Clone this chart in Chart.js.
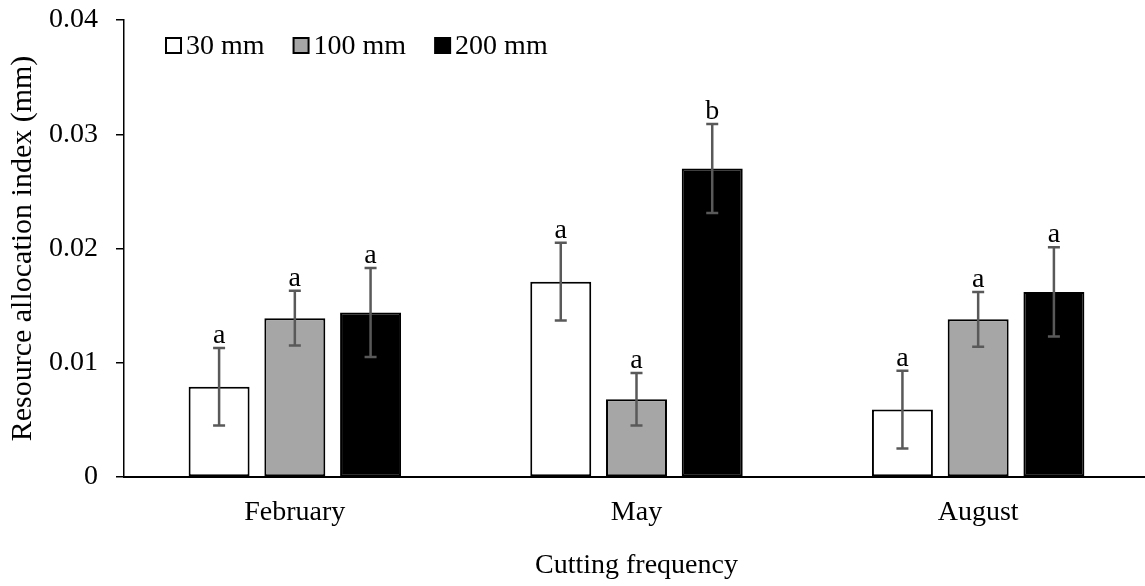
<!DOCTYPE html>
<html>
<head>
<meta charset="utf-8">
<script src="https://cdn.jsdelivr.net/npm/chart.js@4.4.1/dist/chart.umd.min.js"></script>
<style>
  html, body { margin: 0; padding: 0; background: #fff; overflow: hidden; }
  #wrap { width: 1150px; height: 586px; }
</style>
</head>
<body>
<div id="wrap"><canvas id="c" width="1150" height="586"></canvas></div>
<script>
const categories = ['February', 'May', 'August'];
const seriesLabels = ['30 mm', '100 mm', '200 mm'];
const values30 = [0.0079, 0.0171, 0.0059];
const values100 = [0.0139, 0.0068, 0.0138];
const values200 = [0.0144, 0.0270, 0.0162];
const err30 = [0.0034, 0.0034, 0.0034];
const err100 = [0.0024, 0.0023, 0.0024];
const err200 = [0.0039, 0.0039, 0.0039];
const letters30 = ['a', 'a', 'a'];
const letters100 = ['a', 'a', 'a'];
const letters200 = ['a', 'b', 'a'];
const yTicks = [0, 0.01, 0.02, 0.03, 0.04];

const FONT = "'Liberation Serif', 'Times New Roman', serif";
const fills = ['#ffffff', '#a6a6a6', '#000000'];

const datasets = [
  { label: seriesLabels[0], data: values30, errors: err30, letters: letters30 },
  { label: seriesLabels[1], data: values100, errors: err100, letters: letters100 },
  { label: seriesLabels[2], data: values200, errors: err200, letters: letters200 }
].map((d, i) => Object.assign(d, {
  backgroundColor: fills[i],
  borderColor: '#000000',
  borderWidth: 2,
  borderSkipped: false,
  categoryPercentage: 0.665,
  barPercentage: 0.805
}));

const errorBarPlugin = {
  id: 'errorBars',
  afterDatasetsDraw(chart) {
    const ctx = chart.ctx;
    const ys = chart.scales.y;
    ctx.save();
    chart.data.datasets.forEach((ds, i) => {
      const meta = chart.getDatasetMeta(i);
      meta.data.forEach((el, j) => {
        const v = ds.data[j], e = ds.errors[j];
        const x = el.x;
        const yt = ys.getPixelForValue(v + e);
        const yb = ys.getPixelForValue(v - e);
        ctx.strokeStyle = '#595959';
        ctx.lineWidth = 2.5;
        ctx.beginPath();
        ctx.moveTo(x, yt); ctx.lineTo(x, yb);
        ctx.moveTo(x - 6, yt); ctx.lineTo(x + 6, yt);
        ctx.moveTo(x - 6, yb); ctx.lineTo(x + 6, yb);
        ctx.stroke();
        ctx.fillStyle = '#000';
        ctx.font = '28px ' + FONT;
        ctx.textAlign = 'center';
        ctx.textBaseline = 'alphabetic';
        ctx.fillText(ds.letters[j], x, yt - 5);
      });
    });
    ctx.restore();
  }
};

const legendPlugin = {
  id: 'customLegend',
  afterDraw(chart) {
    const ctx = chart.ctx;
    ctx.save();
    ctx.font = '28px ' + FONT;
    ctx.textBaseline = 'alphabetic';
    ctx.textAlign = 'left';
    let x = 166;
    const boxTop = 38, box = 15, baseline = 54;
    chart.data.datasets.forEach((ds) => {
      ctx.fillStyle = ds.backgroundColor;
      ctx.fillRect(x, boxTop, box, box);
      ctx.strokeStyle = '#000';
      ctx.lineWidth = 2;
      ctx.strokeRect(x, boxTop, box, box);
      x += box + 5;
      ctx.fillStyle = '#000';
      ctx.fillText(ds.label, x, baseline);
      x += ctx.measureText(ds.label).width + 29;
    });
    ctx.restore();
  }
};

new Chart(document.getElementById('c'), {
  type: 'bar',
  data: { labels: categories, datasets },
  plugins: [errorBarPlugin, legendPlugin],
  options: {
    responsive: false,
    animation: false,
    layout: { padding: { top: 20, right: 1, bottom: 0, left: 0 } },
    plugins: {
      legend: { display: false },
      tooltip: { enabled: false }
    },
    scales: {
      x: {
        grid: { display: false, drawTicks: false },
        border: { display: true, color: '#000', width: 2 },
        ticks: { color: '#000', font: { family: FONT, size: 28 }, padding: 19 },
        title: { display: true, text: 'Cutting frequency', color: '#000', font: { family: FONT, size: 28 }, padding: { top: 0, bottom: 4 } },
        afterFit(scale) { scale.height = 109; scale.paddingLeft = 0; scale.paddingRight = 0; }
      },
      y: {
        min: 0, max: 0.04,
        afterBuildTicks(scale) { scale.ticks = yTicks.map(v => ({ value: v })); },
        grid: { drawOnChartArea: false, drawTicks: true, tickLength: 8, color: '#000', lineWidth: 1.5 },
        border: { display: true, color: '#000', width: 1.5 },
        ticks: {
          color: '#000', font: { family: FONT, size: 28 }, padding: 18,
          callback: (v) => v === 0 ? '0' : Number(v).toFixed(2)
        },
        title: { display: true, text: 'Resource allocation index (mm)', color: '#000', font: { family: FONT, size: 30 }, padding: { top: 5, bottom: 0 } },
        afterFit(scale) { scale.width = 124; scale.paddingTop = 0; scale.paddingBottom = 0; }
      }
    }
  }
});
</script>
</body>
</html>
